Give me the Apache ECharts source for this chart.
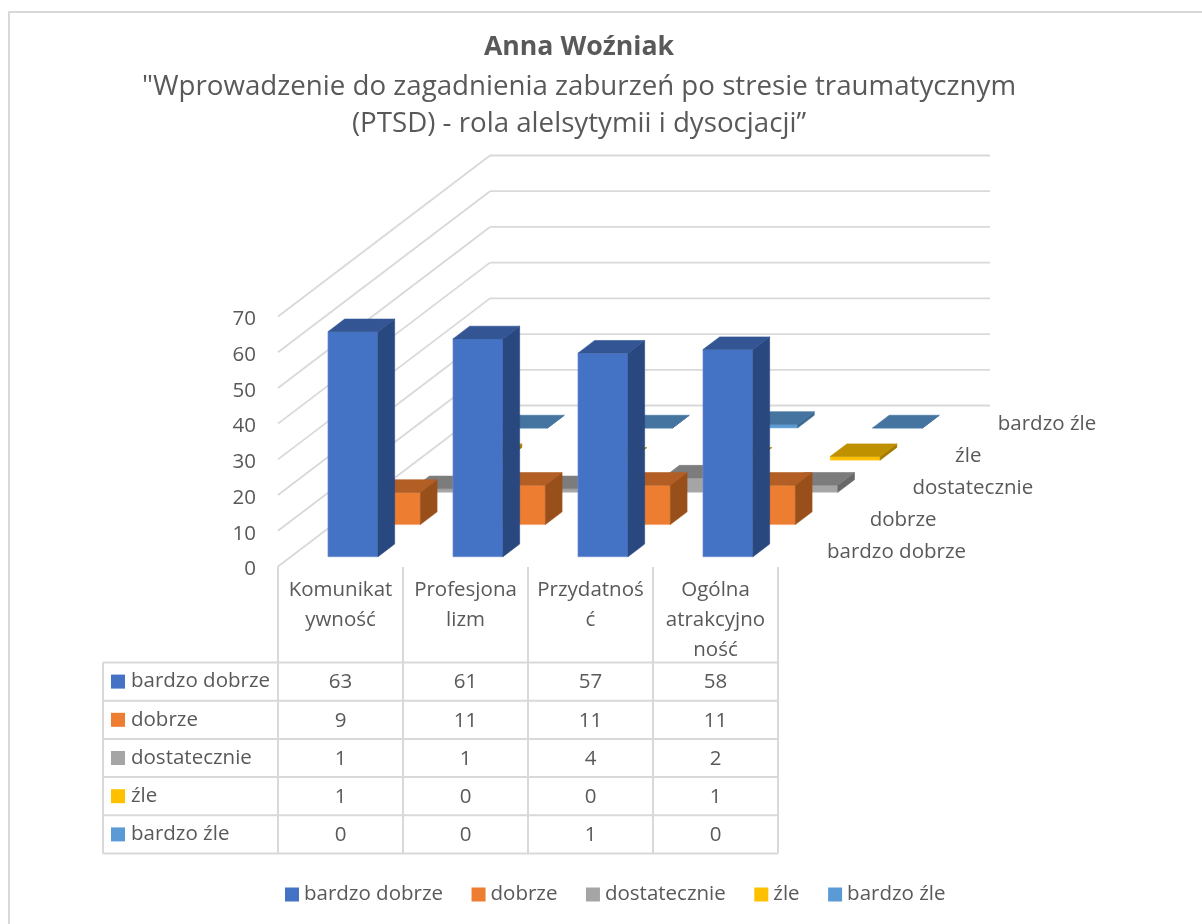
<!DOCTYPE html>
<html><head><meta charset="utf-8">
<style>html,body{margin:0;padding:0;background:#fff}#c{width:1202px;height:924px}</style>
<script src="https://cdn.jsdelivr.net/npm/echarts@6/dist/echarts.min.js"></script>
</head><body><div id="c"></div>
<script>
const titleMain = 'Anna Woźniak';
const titleSub = '"Wprowadzenie do zagadnienia zaburzeń po stresie traumatycznym\n(PTSD) - rola alelsytymii i dysocjacji”';
const categories = ['Komunikat\nywność', 'Profesjona\nlizm', 'Przydatnoś\nć', 'Ogólna\natrakcyjno\nność'];
const seriesNames = ['bardzo dobrze', 'dobrze', 'dostatecznie', 'źle', 'bardzo źle'];
const bardzoDobrze = [63, 61, 57, 58];
const dobrze = [9, 11, 11, 11];
const dostatecznie = [1, 1, 4, 2];
const zle = [1, 0, 0, 1];
const bardzoZle = [0, 0, 1, 0];
const seriesValues = [bardzoDobrze, dobrze, dostatecznie, zle, bardzoZle];
const yTicks = [0, 10, 20, 30, 40, 50, 60, 70];
const colors = ['#4472C4', '#ED7D31', '#A5A5A5', '#FFC000', '#5B9BD5'];
const topColors = ['#335593', '#B25E25', '#7C7C7C', '#BF9000', '#44749F'];
const sideColors = ['#2A4880', '#984F1A', '#686868', '#A37B00', '#3A6A94'];
const edgeColors = ['#7391D3', '#F39D64', '#BBBBBB', '#FFD24D', '#82B4E0'];

const FONT = '"Open Sans"';
const FS = 20.5;
const TXT = '#595959';
const GRID = '#D9D9D9';
const GRID_L = 278, GRID_R = 778, GRID_T = 316.5, GRID_B = 566.5;
const DEPTH_X = 212, DEPTH_Y = 161;
const BAR_W = 50;
const STEP_X = DEPTH_X / 5, STEP_Y = DEPTH_Y / 5;
const BAR_DX = 16.7, BAR_DY = 12.7;
const GAP_DX = (STEP_X - BAR_DX) / 2, GAP_DY = (STEP_Y - BAR_DY) / 2;
const TBL_L = 103, TBL_T = 662.5, ROW_H = 38.2, COL_W = 125;

const line = (x1, y1, x2, y2, w) => ({ type: 'line', shape: { x1, y1, x2, y2 }, style: { stroke: GRID, lineWidth: w || 1.8 } });

function renderWalls(params, api) {
  const y = api.coord([0, api.value(0)])[1];
  const s = api.size([1, 0])[0];
  const xl = api.coord([0, 0])[0] - s / 2;
  const xr = xl + s * categories.length;
  return { type: 'group', children: [
    line(xl, y, xl + DEPTH_X, y - DEPTH_Y),
    line(xl + DEPTH_X, y - DEPTH_Y, xr + DEPTH_X, y - DEPTH_Y)
  ]};
}
function makeBarRenderer(si) {
  return function (params, api) {
    const c = api.coord([api.value(0), api.value(1)]);
    const o = api.coord([api.value(0), 0]);
    const band = api.size([1, 0])[0];
    const ox = c[0] - band / 2 + (band - BAR_W) / 2 + GAP_DX + si * STEP_X - 0.4;
    const shift = GAP_DY + si * STEP_Y;
    const yb = o[1] - shift, yt = c[1] - shift;
    const x1 = ox, x2 = ox + BAR_W;
    const poly = (points, fill, stroke) => ({ type: 'polygon', shape: { points }, style: { fill, stroke: stroke || fill, lineWidth: 0.6 } });
    return { type: 'group', children: [
      poly([[x1, yt], [x2, yt], [x2, yb], [x1, yb]], colors[si], edgeColors[si]),
      poly([[x2, yt], [x2 + BAR_DX, yt - BAR_DY], [x2 + BAR_DX, yb - BAR_DY], [x2, yb]], sideColors[si]),
      poly([[x1, yt], [x1 + BAR_DX, yt - BAR_DY], [x2 + BAR_DX, yt - BAR_DY], [x2, yt]], topColors[si])
    ]};
  };
}
function renderDepthLabel(params, api) {
  const i = params.dataIndex;
  return { type: 'text', x: 827 + 42.7 * i, y: 552 - 32 * i, style: {
    text: seriesNames[i], fill: TXT, font: FS + 'px ' + FONT, textAlign: 'left', textVerticalAlign: 'middle' } };
}

const tableGraphics = [];
const nRows = seriesNames.length, nCols = categories.length;
const tblR = GRID_R, tblB = TBL_T + nRows * ROW_H;
for (let r = 0; r <= nRows; r++) {
  const y = TBL_T + r * ROW_H;
  tableGraphics.push({ type: 'line', shape: { x1: TBL_L, y1: y, x2: tblR, y2: y }, style: { stroke: GRID, lineWidth: 2 } });
}
tableGraphics.push({ type: 'line', shape: { x1: TBL_L, y1: TBL_T, x2: TBL_L, y2: tblB }, style: { stroke: GRID, lineWidth: 2 } });
for (let c = 0; c <= nCols; c++) {
  const x = GRID_L + c * COL_W;
  tableGraphics.push({ type: 'line', shape: { x1: x, y1: c === 0 ? GRID_B : 567, x2: x, y2: tblB }, style: { stroke: GRID, lineWidth: 2 } });
}
seriesNames.forEach((name, r) => {
  const yc = TBL_T + (r + 0.5) * ROW_H;
  tableGraphics.push({ type: 'rect', shape: { x: 111, y: yc - 7, width: 14, height: 14 }, style: { fill: colors[r] } });
  tableGraphics.push({ type: 'text', x: 131, y: yc, style: { text: name, fill: TXT, font: FS + 'px ' + FONT, textVerticalAlign: 'middle' } });
  seriesValues[r].forEach((v, c) => {
    tableGraphics.push({ type: 'text', x: GRID_L + (c + 0.5) * COL_W, y: yc + 1, style: { text: String(v), fill: TXT, font: FS + 'px ' + FONT, textAlign: 'center', textVerticalAlign: 'middle' } });
  });
});
tableGraphics.push({ type: 'line', shape: { x1: 9, y1: 12, x2: 1202, y2: 12 }, style: { stroke: GRID, lineWidth: 2 } });
tableGraphics.push({ type: 'line', shape: { x1: 9, y1: 11, x2: 9, y2: 924 }, style: { stroke: GRID, lineWidth: 2 } });

const chart = echarts.init(document.getElementById('c'), null, { renderer: 'canvas' });
const barSeries = seriesNames.map((name, si) => ({
  name, type: 'custom', coordinateSystem: 'cartesian2d', renderItem: makeBarRenderer(si),
  data: seriesValues[si].map((v, i) => [i, v]), encode: { x: 0, y: 1 }, clip: false,
  itemStyle: { color: colors[si] }, z: 10 - si, silent: true
}));
chart.setOption({
  animation: false,
  backgroundColor: '#fff',
  title: { text: titleMain, subtext: titleSub, left: 574, top: 26, textAlign: 'center',
    textStyle: { fontFamily: FONT, fontSize: 26.7, fontWeight: 'bold', color: TXT, lineHeight: 32 },
    subtextStyle: { fontFamily: FONT, fontSize: 27.7, color: TXT, lineHeight: 37 }, itemGap: 6 },
  legend: { data: seriesNames, left: 280, top: 879, icon: 'rect', itemWidth: 14, itemHeight: 14, itemGap: 28.5,
    textStyle: { fontFamily: FONT, fontSize: FS, color: TXT }, selectedMode: false },
  grid: { left: GRID_L, right: 1202 - GRID_R, top: GRID_T, bottom: 924 - GRID_B },
  xAxis: { type: 'category', data: categories, boundaryGap: true,
    axisLine: { show: false }, axisTick: { show: false },
    axisLabel: { fontFamily: FONT, fontSize: FS, color: TXT, lineHeight: 29.8, margin: 9, interval: 0, align: 'center', verticalAlign: 'top' } },
  yAxis: { type: 'value', min: 0, max: 70, interval: 10,
    axisLine: { show: false }, axisTick: { show: false }, splitLine: { show: false },
    axisLabel: { fontFamily: FONT, fontSize: FS, color: TXT, margin: 22, formatter: '{t|{value}}',
      rich: { t: { fontFamily: FONT, fontSize: FS, color: TXT, padding: [6, 0, 0, 0] } } } },
  graphic: { elements: tableGraphics },
  series: [
    { type: 'custom', name: 'walls', renderItem: renderWalls, data: yTicks.map(v => [v]), encode: { y: 0 }, clip: false, z: 1, silent: true },
    ...barSeries,
    { type: 'custom', name: 'depth', coordinateSystem: 'none', renderItem: renderDepthLabel, data: seriesNames.map((n, i) => [i]), z: 20, silent: true }
  ]
});
</script></body></html>
